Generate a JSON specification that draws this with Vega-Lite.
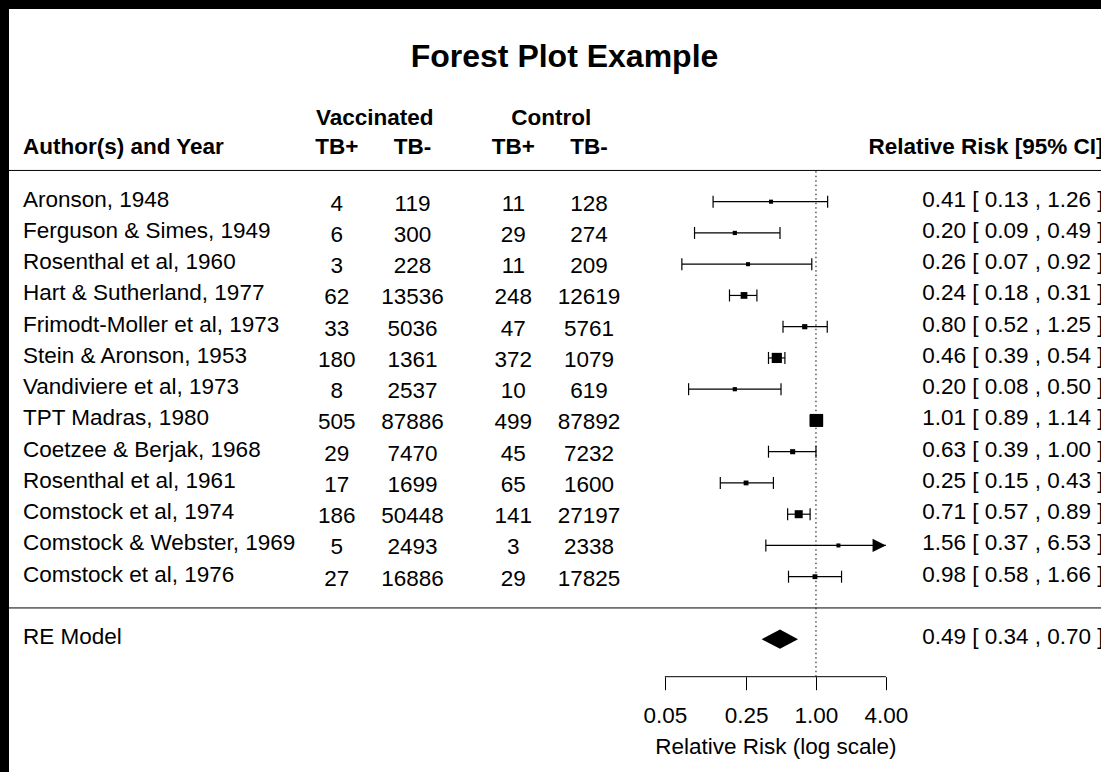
{
  "$schema": "https://vega.github.io/schema/vega-lite/v6.json",
  "width": 1092,
  "height": 667.7,
  "autosize": {"type": "none"},
  "padding": {"left": 9, "top": 9, "right": 0, "bottom": 95.3},
  "background": "black",
  "config": {
    "view": {"fill": "white", "stroke": "white", "strokeWidth": 192, "strokeDash": [0, 1759.7, 1092, 667.7], "strokeCap": "butt"},
    "font": "Liberation Sans",
    "text": {"font": "Liberation Sans", "fontSize": 22.5, "color": "black"},
    "axisX": {
      "format": ".2f",
      "domain": false,
      "grid": false,
      "ticks": true,
      "tickColor": "black",
      "tickWidth": 1,
      "tickSize": 13,
      "labelFont": "Liberation Sans",
      "labelFontSize": 22.5,
      "labelColor": "black",
      "labelPadding": 33,
      "labelBaseline": "alphabetic",
      "labelFlush": false,
      "labelOverlap": false,
      "titleFont": "Liberation Sans",
      "titleFontSize": 22.5,
      "titleFontWeight": "normal",
      "titleColor": "black",
      "titleX": 766.4,
      "titleY": 77,
      "titleAlign": "center",
      "titleBaseline": "alphabetic"
    }
  },
  "title": {
    "text": "Forest Plot Example",
    "font": "Liberation Sans",
    "fontSize": 32,
    "fontWeight": "bold",
    "color": "black",
    "anchor": "middle",
    "frame": "group",
    "baseline": "alphabetic",
    "offset": -90,
    "dx": 9.5
  },
  "datasets": {
    "studies": [
      {"author": "Aronson, 1948", "row": 13, "tpos": 4, "tneg": 119, "cpos": 11, "cneg": 128, "rr": 0.41, "lo": 0.13, "hi": 1.26, "precision": 1.753, "ci": "0.41 [ 0.13 , 1.26 ]"},
      {"author": "Ferguson & Simes, 1949", "row": 12, "tpos": 6, "tneg": 300, "cpos": 29, "cneg": 274, "rr": 0.20, "lo": 0.09, "hi": 0.49, "precision": 2.267, "ci": "0.20 [ 0.09 , 0.49 ]"},
      {"author": "Rosenthal et al, 1960", "row": 11, "tpos": 3, "tneg": 228, "cpos": 11, "cneg": 209, "rr": 0.26, "lo": 0.07, "hi": 0.92, "precision": 1.552, "ci": "0.26 [ 0.07 , 0.92 ]"},
      {"author": "Hart & Sutherland, 1977", "row": 10, "tpos": 62, "tneg": 13536, "cpos": 248, "cneg": 12619, "rr": 0.24, "lo": 0.18, "hi": 0.31, "precision": 7.069, "ci": "0.24 [ 0.18 , 0.31 ]"},
      {"author": "Frimodt-Moller et al, 1973", "row": 9, "tpos": 33, "tneg": 5036, "cpos": 47, "cneg": 5761, "rr": 0.80, "lo": 0.52, "hi": 1.25, "precision": 4.419, "ci": "0.80 [ 0.52 , 1.25 ]"},
      {"author": "Stein & Aronson, 1953", "row": 8, "tpos": 180, "tneg": 1361, "cpos": 372, "cneg": 1079, "rr": 0.46, "lo": 0.39, "hi": 0.54, "precision": 12.033, "ci": "0.46 [ 0.39 , 0.54 ]"},
      {"author": "Vandiviere et al, 1973", "row": 7, "tpos": 8, "tneg": 2537, "cpos": 10, "cneg": 619, "rr": 0.20, "lo": 0.08, "hi": 0.50, "precision": 2.118, "ci": "0.20 [ 0.08 , 0.50 ]"},
      {"author": "TPT Madras, 1980", "row": 6, "tpos": 505, "tneg": 87886, "cpos": 499, "cneg": 87892, "rr": 1.01, "lo": 0.89, "hi": 1.14, "precision": 15.886, "ci": "1.01 [ 0.89 , 1.14 ]"},
      {"author": "Coetzee & Berjak, 1968", "row": 5, "tpos": 29, "tneg": 7470, "cpos": 45, "cneg": 7232, "rr": 0.63, "lo": 0.39, "hi": 1.00, "precision": 4.210, "ci": "0.63 [ 0.39 , 1.00 ]"},
      {"author": "Rosenthal et al, 1961", "row": 4, "tpos": 17, "tneg": 1699, "cpos": 65, "cneg": 1600, "rr": 0.25, "lo": 0.15, "hi": 0.43, "precision": 3.701, "ci": "0.25 [ 0.15 , 0.43 ]"},
      {"author": "Comstock et al, 1974", "row": 3, "tpos": 186, "tneg": 50448, "cpos": 141, "cneg": 27197, "rr": 0.71, "lo": 0.57, "hi": 0.89, "precision": 8.976, "ci": "0.71 [ 0.57 , 0.89 ]"},
      {"author": "Comstock & Webster, 1969", "row": 2, "tpos": 5, "tneg": 2493, "cpos": 3, "cneg": 2338, "rr": 1.56, "lo": 0.37, "hi": 6.53, "precision": 1.370, "ci": "1.56 [ 0.37 , 6.53 ]"},
      {"author": "Comstock et al, 1976", "row": 1, "tpos": 27, "tneg": 16886, "cpos": 29, "cneg": 17825, "rr": 0.98, "lo": 0.58, "hi": 1.66, "precision": 3.742, "ci": "0.98 [ 0.58 , 1.66 ]"}
    ],
    "summary": [
      {"label": "RE Model", "row": -1, "rr": 0.49, "lo": 0.34, "hi": 0.70, "ci": "0.49 [ 0.34 , 0.70 ]"}
    ],
    "one": [{}]
  },
  "data": {"name": "studies"},
  "layer": [
    {
      "data": {"name": "one"},
      "mark": {"type": "rule", "color": "black", "strokeWidth": 1},
      "encoding": {
        "x": {
          "datum": 0.05, "type": "quantitative",
          "scale": {"type": "log", "domain": [1.12535e-7, 284.6], "nice": false, "zero": false},
          "axis": {
            "title": "Relative Risk (log scale)",
            "values": [0.05, 0.25, 1, 4],
            "format": ".2f",
            "domain": false,
            "grid": false,
            "tickSize": 13,
            "labelPadding": 33,
            "titleX": 766.4,
            "titleY": 77
          }
        },
        "x2": {"datum": 4},
        "y": {"datum": -2.2, "type": "quantitative", "scale": {"domain": [-2.2, 19.166], "nice": false, "zero": false}, "axis": null}
      }
    },
    {
      "data": {"name": "one"},
      "mark": {"type": "rule", "color": "black", "strokeWidth": 1},
      "encoding": {
        "y": {"datum": 14, "type": "quantitative", "axis": null}
      }
    },
    {
      "data": {"name": "one"},
      "mark": {"type": "rule", "color": "black", "strokeWidth": 1},
      "encoding": {
        "y": {"datum": 0, "type": "quantitative", "axis": null}
      }
    },
    {
      "data": {"name": "one"},
      "mark": {"type": "rule", "color": "black", "strokeWidth": 1, "strokeDash": [1.5, 3]},
      "encoding": {
        "x": {"datum": 1, "type": "quantitative"},
        "y": {"datum": -2.2, "type": "quantitative", "axis": null},
        "y2": {"datum": 14}
      }
    },
    {
      "transform": [{"filter": "datum.hi <= 4"}],
      "mark": {"type": "rule", "color": "black", "strokeWidth": 1.2},
      "encoding": {
        "x": {"field": "lo", "type": "quantitative"},
        "x2": {"field": "hi"},
        "y": {"field": "row", "type": "quantitative", "axis": null}
      }
    },
    {
      "transform": [{"filter": "datum.hi > 4"}],
      "mark": {"type": "rule", "color": "black", "strokeWidth": 1.2},
      "encoding": {
        "x": {"field": "lo", "type": "quantitative"},
        "x2": {"datum": 4},
        "y": {"field": "row", "type": "quantitative", "axis": null}
      }
    },
    {
      "mark": {"type": "tick", "orient": "vertical", "color": "black", "size": 12, "thickness": 1.2, "opacity": 1},
      "encoding": {
        "x": {"field": "lo", "type": "quantitative"},
        "y": {"field": "row", "type": "quantitative", "axis": null}
      }
    },
    {
      "transform": [{"filter": "datum.hi <= 4"}],
      "mark": {"type": "tick", "orient": "vertical", "color": "black", "size": 12, "thickness": 1.2, "opacity": 1},
      "encoding": {
        "x": {"field": "hi", "type": "quantitative"},
        "y": {"field": "row", "type": "quantitative", "axis": null}
      }
    },
    {
      "transform": [{"filter": "datum.hi > 4"}],
      "mark": {"type": "point", "shape": "M-2,-1L0,0L-2,1Z", "size": 178, "filled": true, "color": "black", "opacity": 1, "strokeWidth": 0},
      "encoding": {
        "x": {"datum": 4, "type": "quantitative"},
        "y": {"field": "row", "type": "quantitative", "axis": null}
      }
    },
    {
      "mark": {"type": "point", "shape": "square", "filled": true, "color": "black", "opacity": 1, "strokeWidth": 0},
      "encoding": {
        "x": {"field": "rr", "type": "quantitative"},
        "y": {"field": "row", "type": "quantitative", "axis": null},
        "size": {"field": "precision", "type": "quantitative", "scale": {"type": "pow", "exponent": 2, "domain": [1.37, 15.886], "range": [16, 170], "zero": false}, "legend": null}
      }
    },
    {
      "data": {"name": "summary"},
      "mark": {"type": "point", "shape": "M-1,0L0,-0.524L0.978,0L0,0.524Z", "size": 1354, "filled": true, "color": "black", "opacity": 1, "strokeWidth": 0},
      "encoding": {
        "x": {"field": "rr", "type": "quantitative"},
        "y": {"field": "row", "type": "quantitative", "axis": null}
      }
    },
    {
      "mark": {"type": "text", "align": "left", "baseline": "alphabetic", "dx": 14, "dy": 5},
      "encoding": {
        "x": {"datum": 1.12535e-7, "type": "quantitative"},
        "y": {"field": "row", "type": "quantitative", "axis": null},
        "text": {"field": "author"}
      }
    },
    {
      "mark": {"type": "text", "align": "center", "baseline": "alphabetic", "dy": 9},
      "encoding": {
        "x": {"datum": 7.48518e-5, "type": "quantitative"},
        "y": {"field": "row", "type": "quantitative", "axis": null},
        "text": {"field": "tpos"}
      }
    },
    {
      "mark": {"type": "text", "align": "center", "baseline": "alphabetic", "dy": 9},
      "encoding": {
        "x": {"datum": 3.35463e-4, "type": "quantitative"},
        "y": {"field": "row", "type": "quantitative", "axis": null},
        "text": {"field": "tneg"}
      }
    },
    {
      "mark": {"type": "text", "align": "center", "baseline": "alphabetic", "dy": 9},
      "encoding": {
        "x": {"datum": 2.47875e-3, "type": "quantitative"},
        "y": {"field": "row", "type": "quantitative", "axis": null},
        "text": {"field": "cpos"}
      }
    },
    {
      "mark": {"type": "text", "align": "center", "baseline": "alphabetic", "dy": 9},
      "encoding": {
        "x": {"datum": 1.1109e-2, "type": "quantitative"},
        "y": {"field": "row", "type": "quantitative", "axis": null},
        "text": {"field": "cneg"}
      }
    },
    {
      "mark": {"type": "text", "align": "right", "baseline": "alphabetic", "dx": -15, "dy": 5},
      "encoding": {
        "x": {"datum": 403.4288, "type": "quantitative"},
        "y": {"field": "row", "type": "quantitative", "axis": null},
        "text": {"field": "ci"}
      }
    },
    {
      "data": {"name": "summary"},
      "mark": {"type": "text", "align": "left", "baseline": "alphabetic", "dx": 14, "dy": 5},
      "encoding": {
        "x": {"datum": 1.12535e-7, "type": "quantitative"},
        "y": {"field": "row", "type": "quantitative", "axis": null},
        "text": {"field": "label"}
      }
    },
    {
      "data": {"name": "summary"},
      "mark": {"type": "text", "align": "right", "baseline": "alphabetic", "dx": -15, "dy": 5},
      "encoding": {
        "x": {"datum": 403.4288, "type": "quantitative"},
        "y": {"field": "row", "type": "quantitative", "axis": null},
        "text": {"field": "ci"}
      }
    },
    {
      "data": {"name": "one"},
      "mark": {"type": "text", "text": "Author(s) and Year", "fontWeight": "bold", "align": "left", "baseline": "alphabetic", "dx": 14, "dy": 14.8},
      "encoding": {
        "x": {"datum": 1.12535e-7, "type": "quantitative"},
        "y": {"datum": 15, "type": "quantitative", "axis": null}
      }
    },
    {
      "data": {"name": "one"},
      "mark": {"type": "text", "text": "Relative Risk [95% CI]", "fontWeight": "bold", "align": "right", "baseline": "alphabetic", "dx": -15, "dy": 14.8},
      "encoding": {
        "x": {"datum": 403.4288, "type": "quantitative"},
        "y": {"datum": 15, "type": "quantitative", "axis": null}
      }
    },
    {
      "data": {"name": "one"},
      "mark": {"type": "text", "text": "TB+", "fontWeight": "bold", "align": "center", "baseline": "alphabetic", "dy": 14.8},
      "encoding": {
        "x": {"datum": 7.48518e-5, "type": "quantitative"},
        "y": {"datum": 15, "type": "quantitative", "axis": null}
      }
    },
    {
      "data": {"name": "one"},
      "mark": {"type": "text", "text": "TB-", "fontWeight": "bold", "align": "center", "baseline": "alphabetic", "dy": 14.8},
      "encoding": {
        "x": {"datum": 3.35463e-4, "type": "quantitative"},
        "y": {"datum": 15, "type": "quantitative", "axis": null}
      }
    },
    {
      "data": {"name": "one"},
      "mark": {"type": "text", "text": "TB+", "fontWeight": "bold", "align": "center", "baseline": "alphabetic", "dy": 14.8},
      "encoding": {
        "x": {"datum": 2.47875e-3, "type": "quantitative"},
        "y": {"datum": 15, "type": "quantitative", "axis": null}
      }
    },
    {
      "data": {"name": "one"},
      "mark": {"type": "text", "text": "TB-", "fontWeight": "bold", "align": "center", "baseline": "alphabetic", "dy": 14.8},
      "encoding": {
        "x": {"datum": 1.1109e-2, "type": "quantitative"},
        "y": {"datum": 15, "type": "quantitative", "axis": null}
      }
    },
    {
      "data": {"name": "one"},
      "mark": {"type": "text", "text": "Vaccinated", "fontWeight": "bold", "align": "center", "baseline": "alphabetic", "dy": 17},
      "encoding": {
        "x": {"datum": 1.58461e-4, "type": "quantitative"},
        "y": {"datum": 16, "type": "quantitative", "axis": null}
      }
    },
    {
      "data": {"name": "one"},
      "mark": {"type": "text", "text": "Control", "fontWeight": "bold", "align": "center", "baseline": "alphabetic", "dy": 17},
      "encoding": {
        "x": {"datum": 5.24752e-3, "type": "quantitative"},
        "y": {"datum": 16, "type": "quantitative", "axis": null}
      }
    }
  ]
}
